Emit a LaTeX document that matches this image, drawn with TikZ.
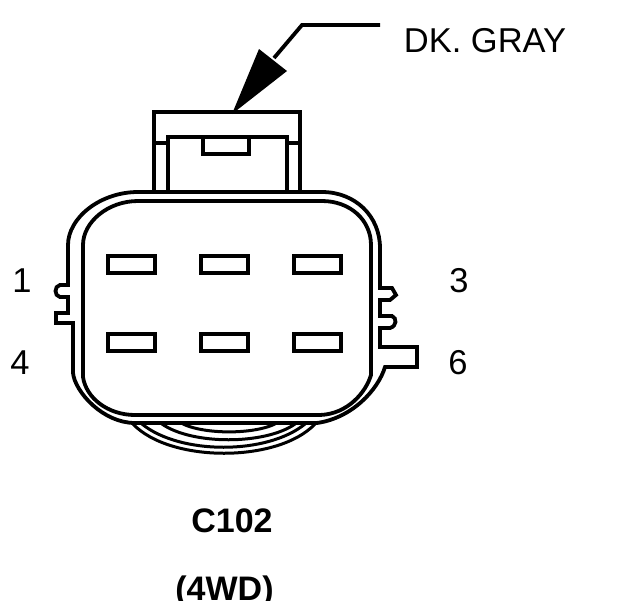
\documentclass[tikz,border=0pt]{standalone}
\usepackage{fontspec}
\setmainfont{Liberation Sans}
\tikzset{
    wire/.style={line width=3.8pt,line join=miter},
    thin wire/.style={line width=3pt},
    pinbox/.style={draw,line width=4pt,minimum width=47pt,minimum height=17pt,inner sep=0pt},
    lbl/.style={font=\fontsize{34.5}{34.5}\selectfont,inner sep=0pt},
    bold lbl/.style={font=\fontsize{34}{34}\selectfont\bfseries,inner sep=0pt,anchor=base}
}
\begin{document}
\begin{tikzpicture}[x=1pt,y=-1pt]
    \useasboundingbox (0,0) rectangle (624,600);
    % labels
    \node[lbl] (gray) at (485,41) {DK. GRAY};
    \node[lbl] (one) at (22,281) {1};
    \node[lbl] (three) at (459,281) {3};
    \node[lbl] (four) at (20,363) {4};
    \node[lbl] (six) at (458,363) {6};
    \node[bold lbl] (name) at (232,532) {C102};
    \node[bold lbl] (drive) at (224.5,600) {(4WD)};
    % leader and arrow
    \coordinate (leadend) at (380,25);
    \coordinate (leadknee) at (302,25);
    \coordinate (tip) at (232,114);
    \draw[wire] (leadend) -- (leadknee) -- (274,58);
    \fill (tip) -- (259,49) -- (287,71) -- cycle;
    % latch on top
    \draw[wire] (154,192) -- (154,112) -- (300,112) -- (300,192);
    \draw[wire] (168,192) -- (168,137) -- (287,137) -- (287,192);
    \draw[wire] (154,143) -- (168,143) (287,143) -- (302,143);
    \draw[wire] (203,137) -- (203,154) -- (249,154) -- (249,135);
    % arcs under the body
    \draw[thin wire] (183,424) .. controls (205,434.5) and (253,434.5) .. (275,424);
    \draw[thin wire] (162,424) .. controls (192,445) and (265,445) .. (295,424);
    \draw[thin wire] (142,424) .. controls (180,455) and (267,455) .. (305,424);
    \draw[thin wire] (133,424) .. controls (170,463) and (278,463) .. (315,424);
    % outer body
    \draw[wire] (138,192) -- (322,192)
        .. controls (355,192) and (380,216) .. (380,248) -- (380,288) -- (392,288)
        -- (396,295) -- (390,300) -- (380,300) -- (380,316) -- (392,316)
        .. controls (397,318) and (397,326) .. (390,328) -- (380,328) -- (380,347)
        -- (417,347) -- (417,367) -- (385,367)
        .. controls (378,390) and (352,418) .. (317,423) -- (135,423)
        .. controls (103,423) and (75,392) .. (73,373) -- (73,323) -- (56,323)
        -- (56,313) -- (68,313) -- (68,297) -- (60,297)
        .. controls (54,296) and (54,286) .. (60,285) -- (68,285) -- (68,245)
        .. controls (68,218) and (100,192) .. (138,192) -- cycle;
    % inner body
    \draw[wire] (138,201) -- (322,201)
        .. controls (350,201) and (371,220) .. (371,245) -- (371,375)
        .. controls (366,392) and (348,414) .. (320,415) -- (135,415)
        .. controls (108,415) and (86,398) .. (83,377) -- (83,245)
        .. controls (83,222) and (108,201) .. (138,201) -- cycle;
    % pins
    \foreach \col/\x in {a/131.5,b/224.5,c/317.5}
        \foreach \row/\y in {1/264.5,2/342.5}
            \node[pinbox] (pin\col\row) at (\x,\y) {};
\end{tikzpicture}
\end{document}
